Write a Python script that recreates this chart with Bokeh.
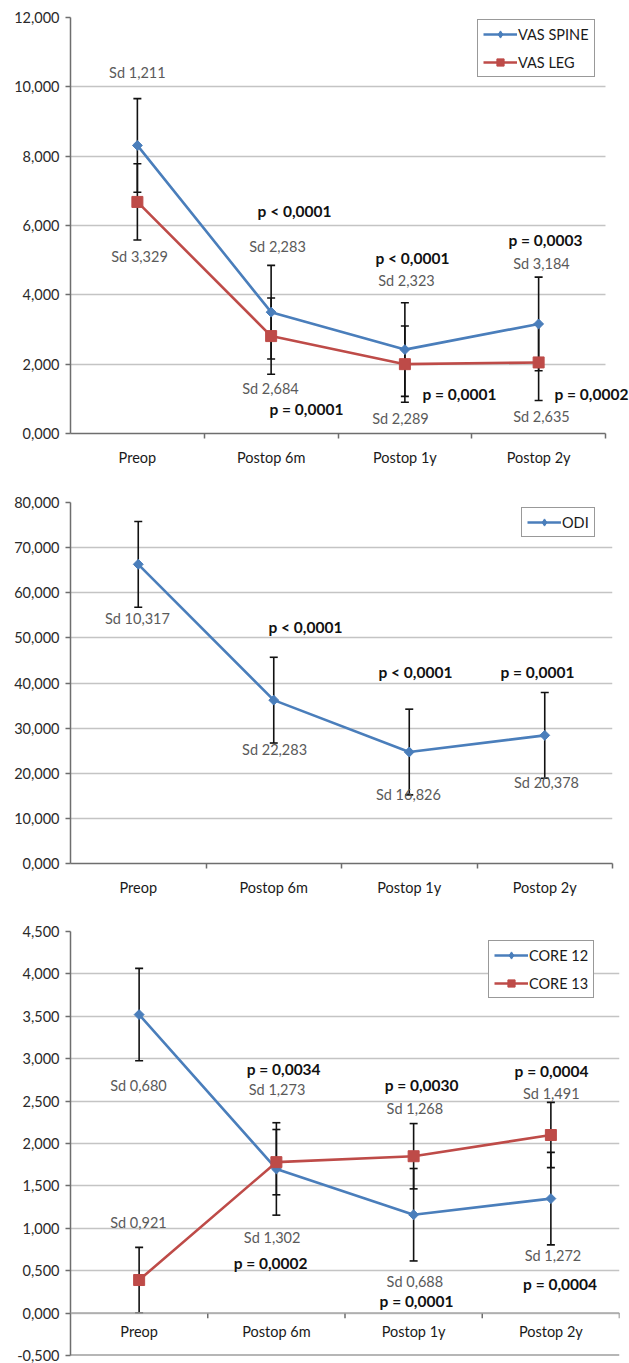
import numpy as np
from bokeh.plotting import figure
from bokeh.models import (Label, FixedTicker, Range1d,
                          Legend, LegendItem, Span, LinearAxis)
from bokeh.layouts import column
from bokeh.embed import file_html
from bokeh.resources import INLINE

# ---------------- data ----------------
categories = ["Preop", "Postop 6m", "Postop 1y", "Postop 2y"]

# Panel 1: VAS
vas_spine = [8.31, 3.50, 2.42, 3.16]
vas_spine_err = [1.35, 1.35, 1.35, 1.35]
vas_leg = [6.68, 2.81, 2.00, 2.05]
vas_leg_err = [1.10, 1.10, 1.10, 1.10]
vas_yticks = [0, 2, 4, 6, 8, 10, 12]
vas_ytick_labels = ["0,000", "2,000", "4,000", "6,000", "8,000", "10,000", "12,000"]
vas_sd_text = ["Sd 1,211", "Sd 3,329", "Sd 2,283", "Sd 2,684",
               "Sd 2,323", "Sd 2,289", "Sd 3,184", "Sd 2,635"]
vas_p_text = ["p < 0,0001", "p = 0,0001", "p < 0,0001", "p = 0,0001",
              "p = 0,0003", "p = 0,0002"]

# Panel 2: ODI
odi = [66.3, 36.2, 24.7, 28.4]
odi_err = [9.5, 9.5, 9.5, 9.5]
odi_yticks = [0, 10, 20, 30, 40, 50, 60, 70, 80]
odi_ytick_labels = ["0,000", "10,000", "20,000", "30,000", "40,000",
                    "50,000", "60,000", "70,000", "80,000"]
odi_sd_text = ["Sd 10,317", "Sd 22,283", "Sd 16,826", "Sd 20,378"]
odi_p_text = ["p < 0,0001", "p < 0,0001", "p = 0,0001"]

# Panel 3: CORE
core12 = [3.52, 1.70, 1.16, 1.35]
core12_err = [0.545, 0.545, 0.545, 0.545]
core13 = [0.39, 1.78, 1.85, 2.10]
core13_err = [0.385, 0.385, 0.385, 0.385]
core_yticks = [-0.5, 0.0, 0.5, 1.0, 1.5, 2.0, 2.5, 3.0, 3.5, 4.0, 4.5]
core_ytick_labels = ["-0,500", "0,000", "0,500", "1,000", "1,500", "2,000",
                     "2,500", "3,000", "3,500", "4,000", "4,500"]
core_sd_text = ["Sd 0,680", "Sd 0,921", "Sd 1,273", "Sd 1,302",
                "Sd 1,268", "Sd 0,688", "Sd 1,491", "Sd 1,272"]
core_p_text = ["p = 0,0034", "p = 0,0002", "p = 0,0030", "p = 0,0001",
               "p = 0,0004", "p = 0,0004"]

# ---------------- annotation placement ----------------
vas_sd_x = [0.00, 0.016, 1.048, 0.995, 2.012, 1.967, 3.021, 3.021]
vas_sd_y = [10.41, 5.11, 5.39, 1.30, 4.41, 0.43, 4.90, 0.49]
vas_p_x = [1.175, 1.264, 2.057, 2.408, 3.051, 3.395]
vas_p_y = [6.43, 0.72, 5.05, 1.15, 5.57, 1.15]

odi_sd_x = [-0.006, 1.006, 1.994, 3.013]
odi_sd_y = [54.4, 25.3, 15.4, 17.9]
odi_p_x = [1.234, 2.046, 2.946]
odi_p_y = [52.4, 42.4, 42.4]

core_sd_x = [-0.005, -0.005, 1.005, 0.969, 2.009, 2.009, 3.003, 3.015]
core_sd_y = [2.68, 1.07, 2.64, 0.897, 2.41, 0.368, 2.59, 0.68]
core_p_x = [1.053, 0.958, 2.058, 2.021, 3.005, 3.067]
core_p_y = [2.88, 0.587, 2.69, 0.137, 2.86, 0.34]

BLUE = "#4A7EBB"
RED = "#BE4B48"
FONT = "Lato"
GRID = "#c4c4c4"
AXIS = "#6e6e6e"

xpos = list(range(len(categories)))
boundaries = [i + 0.5 for i in xpos]
X0, X1 = -0.5, len(categories) - 0.5


def make_fig(fw, fh, yr, yticks, ylabels, borders, cat_axis=True, x_extra=0.0):
    top, bottom, right = borders
    p = figure(frame_width=fw, frame_height=fh, output_backend="svg",
               toolbar_location=None, x_range=Range1d(X0, X1 + x_extra),
               y_range=Range1d(*yr), x_axis_location=None, y_axis_location=None,
               min_border=0, min_border_left=70, min_border_right=right,
               min_border_top=top, min_border_bottom=bottom)
    p.outline_line_color = None
    p.background_fill_color = "white"
    p.border_fill_color = "white"
    p.xgrid.visible = False

    yt = FixedTicker(ticks=yticks)
    yax = LinearAxis(ticker=yt)
    yax.major_label_overrides = dict(zip(yticks, ylabels))
    yax.axis_line_color = AXIS
    yax.axis_line_width = 1.5
    yax.major_tick_line_color = AXIS
    yax.major_tick_line_width = 1.5
    yax.major_tick_in = 0
    yax.major_tick_out = 5
    yax.minor_tick_line_color = None
    yax.major_label_standoff = 6
    yax.major_label_text_font = FONT
    yax.major_label_text_font_size = "14.5px"
    yax.major_label_text_color = "#2a2a2a"
    p.add_layout(yax, "left")

    p.ygrid.ticker = yt
    p.ygrid.grid_line_color = GRID
    p.ygrid.grid_line_width = 1.3
    p.ygrid.cross_bounds = (X0, X1)

    if cat_axis:
        xt = FixedTicker(ticks=xpos, minor_ticks=boundaries)
        xax = LinearAxis(ticker=xt, bounds=(X0, X1))
        xax.major_label_overrides = dict(zip(xpos, categories))
        xax.axis_line_color = AXIS
        xax.axis_line_width = 1.5
        xax.major_tick_line_color = None
        xax.major_tick_in = 0
        xax.major_tick_out = 0
        xax.minor_tick_line_color = AXIS
        xax.minor_tick_line_width = 1.5
        xax.minor_tick_in = 0
        xax.minor_tick_out = 5
        xax.major_label_standoff = 10
        xax.major_label_text_font = FONT
        xax.major_label_text_font_size = "14.5px"
        xax.major_label_text_color = "#1a1a1a"
        p.add_layout(xax, "below")
    return p


def add_line(p, y, color):
    return p.line(xpos, y, line_color=color, line_width=2.6)


def add_errors(p, y, err):
    lo = [a - e for a, e in zip(y, err)]
    hi = [a + e for a, e in zip(y, err)]
    p.segment(x0=xpos, y0=lo, x1=xpos, y1=hi, line_color="#111111", line_width=1.6)
    p.scatter(xpos + xpos, lo + hi, marker="dash", size=8,
              line_color="#111111", line_width=1.6)


def add_markers(p, y, color, marker, size, angle=0.0):
    return p.scatter(xpos, y, marker=marker, size=size, angle=angle,
                     fill_color=color, line_color=color)


def legend_marker(p, y, color, marker, size):
    # hidden copy of the series, only used for the legend swatch
    r = p.scatter(xpos, y, marker=marker, size=size,
                  fill_color=color, line_color=color)
    r.visible = False
    return r


def add_texts(p, xs, ys, texts, bold, color):
    for x, y, t in zip(xs, ys, texts):
        p.add_layout(Label(x=x, y=y, text=t, text_align="center",
                           text_baseline="middle", text_font=FONT,
                           text_font_size="15.5px" if bold else "14.5px",
                           text_font_style="bold" if bold else "normal",
                           text_color=color))


def add_legend(p, items, loc):
    leg = Legend(items=items, location=loc)
    leg.border_line_color = "#333333"
    leg.border_line_width = 1.2
    leg.background_fill_color = "white"
    leg.background_fill_alpha = 1.0
    leg.inactive_fill_alpha = 0.0
    leg.label_text_font = FONT
    leg.label_text_font_size = "14.5px"
    leg.label_text_color = "#1a1a1a"
    leg.glyph_width = 34
    leg.glyph_height = 18
    leg.label_height = 18
    leg.label_standoff = 1
    leg.spacing = 10
    leg.padding = 5
    leg.margin = 0
    p.add_layout(leg)


ROT = np.pi / 4
SD_COLOR = "#5a5a5a"
P_COLOR = "#111111"

# ---------------- panel 1 ----------------
# plot area runs to the page edge so the right-most p-value is not cut;
# grid and axis stop at the last category boundary
p1 = make_fig(559, 416, (0, 12), vas_yticks, vas_ytick_labels, (17, 37, 0),
              x_extra=24 / 133.75)
l1a = add_line(p1, vas_spine, BLUE)
l1b = add_line(p1, vas_leg, RED)
add_errors(p1, vas_spine, vas_spine_err)
add_errors(p1, vas_leg, vas_leg_err)
add_markers(p1, vas_spine, BLUE, "square", 7, ROT)
add_markers(p1, vas_leg, RED, "square", 11)
g1a = legend_marker(p1, vas_spine, BLUE, "diamond", 10)
g1b = legend_marker(p1, vas_leg, RED, "square", 10)
add_texts(p1, vas_sd_x, vas_sd_y, vas_sd_text, False, SD_COLOR)
add_texts(p1, vas_p_x, vas_p_y, vas_p_text, True, P_COLOR)
add_legend(p1, [LegendItem(label="VAS SPINE", renderers=[l1a, g1a]),
                LegendItem(label="VAS LEG", renderers=[l1b, g1b])], (407, 356))

# ---------------- panel 2 ----------------
p2 = make_fig(542, 361, (0, 80), odi_yticks, odi_ytick_labels, (32, 37, 17))
l2 = add_line(p2, odi, BLUE)
add_errors(p2, odi, odi_err)
add_markers(p2, odi, BLUE, "square", 7, ROT)
g2 = legend_marker(p2, odi, BLUE, "diamond", 10)
add_texts(p2, odi_sd_x, odi_sd_y, odi_sd_text, False, SD_COLOR)
add_texts(p2, odi_p_x, odi_p_y, odi_p_text, True, P_COLOR)
add_legend(p2, [LegendItem(label="ODI", renderers=[l2, g2])], (451, 326))

# ---------------- panel 3 ----------------
p3 = make_fig(549, 424, (-0.5, 4.5), core_yticks, core_ytick_labels, (31, 8, 10),
              cat_axis=False)
p3.add_layout(Span(location=0.0, dimension="width", line_color="#a8a8a8", line_width=1.5))
p3.add_layout(Span(location=-0.5, dimension="width", line_color=AXIS, line_width=2))
p3.segment(x0=boundaries, y0=[0.0] * len(boundaries), x1=boundaries,
           y1=[-0.06] * len(boundaries), line_color=AXIS, line_width=1.5)
for x, t in zip(xpos, categories):
    p3.add_layout(Label(x=x, y=0.0, text=t, text_align="center",
                        text_baseline="middle", y_offset=-18, text_font=FONT,
                        text_font_size="14.5px", text_color="#1a1a1a"))
l3a = add_line(p3, core12, BLUE)
l3b = add_line(p3, core13, RED)
add_errors(p3, core12, core12_err)
add_errors(p3, core13, core13_err)
add_markers(p3, core12, BLUE, "square", 7, ROT)
add_markers(p3, core13, RED, "square", 11)
g3a = legend_marker(p3, core12, BLUE, "diamond", 10)
g3b = legend_marker(p3, core13, RED, "square", 10)
add_texts(p3, core_sd_x, core_sd_y, core_sd_text, False, SD_COLOR)
add_texts(p3, core_p_x, core_p_y, core_p_text, True, P_COLOR)
add_legend(p3, [LegendItem(label="CORE 12", renderers=[l3a, g3a]),
                LegendItem(label="CORE 13", renderers=[l3b, g3b])], (418, 357))

layout = column(p1, p2, p3)
open("out.html", "w").write(file_html(layout, INLINE))
